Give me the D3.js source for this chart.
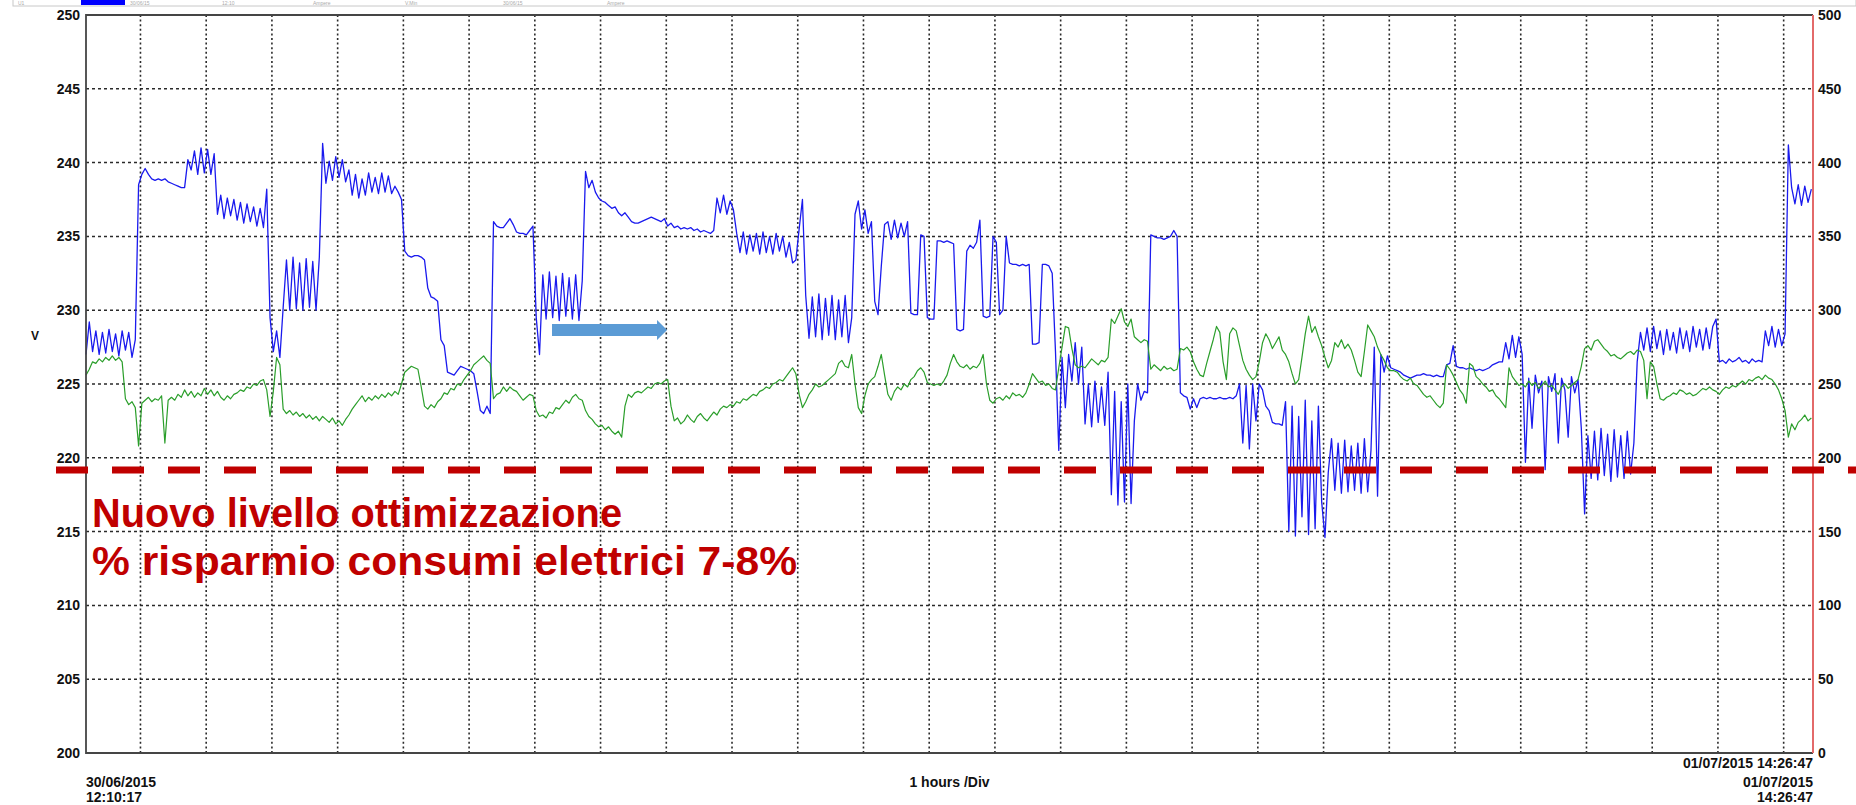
<!DOCTYPE html>
<html>
<head>
<meta charset="utf-8">
<script src="https://d3js.org/d3.v7.min.js"></script>
<style>
  body { margin: 0; background: #fff; }
  svg { display: block; font-family: "Liberation Sans", Arial, sans-serif; }
</style>
</head>
<body>
<div id="chart"></div>
<script>
// Recording window and sampling
const startTime = new Date(2015, 5, 30, 12, 10, 17);
const endTime = new Date(2015, 6, 1, 14, 26, 47);
const stepMinutes = 3;

// Blue trace (V), one value every 3 minutes from startTime
const blueValues = [
  227.0, 229.2, 227.2, 228.6, 227.0, 228.5, 227.1, 228.7, 227.2, 228.4, 226.9, 228.6, 227.3, 228.5, 226.8, 228.0,
  238.5, 239.2, 239.6, 239.2, 238.9, 238.8, 238.9, 238.8, 238.9, 238.7, 238.6, 238.5, 238.4, 238.3, 238.3,
  240.2, 239.5, 240.8, 239.2, 241.0, 239.3, 240.9, 239.2, 240.6,
  236.5, 237.8, 236.2, 237.6, 236.4, 237.5, 236.1, 237.3, 235.9, 237.2, 236.0, 237.0, 235.7, 236.9, 235.6, 238.2,
  229.5, 227.2, 228.6, 226.8,
  230.2, 233.4, 230.0, 233.6, 230.1, 233.2, 230.0, 233.5, 230.2, 233.3, 230.0, 233.6,
  241.3,
  238.6, 240.1, 238.8, 240.4, 239.0, 240.2, 238.7,
  239.5, 237.8, 239.2, 237.6, 238.9, 237.8, 239.3, 238.0, 239.0, 237.9, 239.3, 238.0, 239.1, 237.9, 238.4, 238.0,
  237.5, 234.0,
  233.7, 233.6, 233.7, 233.7, 233.6, 233.4,
  231.5, 230.9, 230.8, 230.6,
  228.0, 227.6,
  225.8, 225.7, 225.6, 225.9,
  226.2, 226.1, 226.0, 225.9, 225.7,
  224.5, 223.2, 223.0, 223.5, 223.0,
  236.0, 235.7, 235.6, 235.6, 235.9, 236.2, 235.8, 235.3, 235.2, 235.2, 235.1, 235.4, 235.7,
  229.5, 227.0,
  232.4, 229.4, 232.6, 229.5, 232.3, 229.3, 232.5, 229.6, 232.2, 229.4, 232.4, 229.3, 232.0,
  239.4, 238.3,
  238.8, 238.0, 237.6,
  237.4, 237.3, 237.1, 236.9, 237.0, 236.6, 236.4, 236.6, 236.3, 236.0, 235.9, 235.9, 236.0, 236.1, 236.2, 236.3, 236.2, 236.1, 236.0, 236.2,
  235.7, 235.9, 235.6, 235.7, 235.5, 235.6, 235.5, 235.6, 235.4, 235.5, 235.3, 235.4, 235.3, 235.2, 235.4,
  237.6, 236.6, 237.8, 236.5, 237.4, 236.8,
  235.2, 233.9, 235.3, 233.8, 235.1, 234.0, 235.2, 233.8, 235.3, 233.9, 235.0, 233.8, 235.2, 234.0, 235.0, 233.6, 234.6, 233.2, 233.4,
  235.5, 237.5,
  231.0, 228.1, 230.9, 228.2, 231.1, 228.0, 230.8, 228.3, 231.0, 228.0, 230.7, 228.2, 231.0, 227.8, 229.5,
  236.5, 237.4,
  235.5, 236.8, 235.2, 236.0,
  230.6, 229.7,
  233.0, 235.8,
  236.0, 234.8, 236.1, 234.9, 235.9, 235.0, 236.0,
  229.8, 229.7, 229.7,
  235.1, 235.0,
  229.5, 229.4, 229.4,
  234.7, 234.7, 234.6, 234.7, 234.6, 234.5,
  228.7, 228.6, 228.7,
  234.0, 234.4, 234.2, 234.6, 236.1,
  229.6, 229.5, 229.6,
  235.0, 234.6,
  229.7, 230.0,
  235.0, 233.2, 233.1, 233.1, 233.0, 233.1, 233.0, 233.1,
  227.7, 227.7, 227.8,
  233.1, 233.1, 233.0, 232.5,
  227.2, 220.5,
  226.8, 223.4, 227.0,
  225.2, 227.8, 225.0, 227.5,
  222.3, 225.0, 222.1, 225.2, 222.4, 224.8, 222.2,
  225.8, 217.5, 224.5, 216.8, 223.8, 217.0, 225.0, 216.9, 222.5,
  225.0, 223.9, 224.5, 224.4,
  235.1, 235.0, 234.9, 234.9, 234.8, 234.9, 235.0, 235.4, 235.0,
  224.4, 224.2, 224.1, 223.3, 224.0, 223.4, 224.0, 224.1, 224.0, 224.1, 224.0, 224.0, 224.1, 224.0, 224.0, 224.1, 224.0,
  224.2, 225.0, 221.0, 224.9, 220.6, 225.0, 222.5,
  225.0, 224.6, 223.5, 223.2, 222.4, 222.3, 222.3, 222.2,
  223.8, 215.0, 223.5, 214.7, 222.8, 216.0, 223.9, 214.8, 222.5, 215.2, 223.5, 217.0,
  214.6,
  219.0, 221.3, 217.8, 221.0, 217.6, 221.2, 217.7, 220.8, 217.8, 221.0, 217.6, 221.3, 217.7, 220.5,
  227.5, 217.4, 227.0,
  225.8, 226.9, 226.1,
  226.0, 225.9, 225.8, 225.6, 225.5, 225.4, 225.5, 225.6, 225.6, 225.7, 225.6, 225.6, 225.5, 225.6, 225.5, 225.5,
  226.3, 226.4, 227.6,
  226.2, 226.1, 226.1, 226.0, 226.1, 226.0, 225.9, 226.0, 225.9, 226.0,
  226.1, 226.3, 226.4, 226.5, 226.5,
  227.8, 226.7, 228.3, 226.8, 228.2, 227.0,
  219.7, 225.4, 222.0, 225.6, 224.4, 225.2, 219.2, 225.5, 224.5, 225.7, 221.0, 225.4, 224.6, 221.4, 225.5, 224.4, 225.3, 222.0,
  216.2,
  221.5, 218.6, 221.8, 218.5, 222.0, 218.8, 221.6, 218.4, 221.9, 218.7, 221.5, 218.6, 221.8, 218.9, 221.0,
  226.5,
  228.5, 227.3, 228.8, 227.2, 228.9, 227.4, 228.6, 227.0, 228.7, 227.3, 228.5, 227.1, 228.8, 227.4, 228.6, 227.2, 228.9, 227.5, 228.7, 227.3, 228.8, 227.4, 228.9, 229.4,
  226.5,
  226.6, 226.4, 226.7, 226.5, 226.6, 226.8, 226.5, 226.6, 226.4, 226.7, 226.5, 226.6, 226.5,
  228.6, 227.6, 228.9, 227.5, 228.7, 227.6, 228.4,
  241.2,
  238.3, 237.2, 238.5, 237.1, 238.4, 237.3, 238.2
];

// Green trace (V), same 3-minute steps
const greenValues = [
  225.6, 226.0, 226.5, 226.4, 226.7, 226.5, 226.8, 226.6, 226.9, 226.6, 226.8, 226.5,
  224.0, 223.6, 223.8, 223.4, 220.8, 223.7, 223.9, 224.1, 223.8, 224.0, 223.9, 224.2,
  221.0, 223.9, 224.1, 223.9, 224.3, 224.1, 224.6, 224.2, 224.5, 224.1, 224.4, 224.2,
  224.7, 224.3, 224.6, 224.2, 224.5, 224.1, 223.9, 224.2, 224.0, 224.3, 224.4, 224.6,
  224.5, 224.8, 224.7, 225.0, 224.9, 225.2, 225.3, 224.6, 222.8, 224.5, 226.8, 226.3,
  223.3, 223.0, 223.2, 222.9, 223.1, 222.8, 223.0, 222.7, 222.9, 222.6, 222.8, 222.5,
  222.8, 222.6, 222.4, 222.7, 222.3, 222.5, 222.2, 222.6, 222.9, 223.3, 223.6, 223.9,
  224.2, 223.8, 224.1, 223.9, 224.2, 224.0, 224.3, 224.1, 224.4, 224.2, 224.5, 224.3,
  225.0, 225.8, 226.0, 226.2, 226.1, 226.0, 224.8, 223.5, 223.3, 223.6, 223.4, 223.8,
  224.0, 224.4, 224.3, 224.7, 224.6, 225.0, 224.9, 225.3, 225.6, 225.9, 226.3, 226.5,
  226.7, 226.9, 226.6, 226.4, 224.0, 224.3, 224.4, 224.8, 224.5, 224.8, 224.6, 224.5,
  224.2, 223.9, 224.1, 224.3, 224.2, 223.2, 222.8, 222.9, 222.7, 223.1, 223.0, 223.4,
  223.3, 223.6, 223.9, 223.7, 224.1, 224.3, 224.0, 223.9, 223.2, 222.8, 222.6, 222.3,
  222.1, 222.2, 221.9, 222.1, 221.8, 221.6, 221.8, 221.4, 223.5, 224.3, 224.1, 224.4,
  224.5, 224.4, 224.6, 224.8, 224.7, 225.0, 225.1, 225.0, 225.2, 225.3, 223.5, 222.5,
  222.7, 222.3, 222.5, 222.9, 222.6, 222.4, 222.8, 223.0, 222.7, 222.5, 222.8, 223.1,
  222.9, 223.3, 223.5, 223.4, 223.6, 223.5, 223.8, 223.7, 224.0, 223.9, 224.1, 224.3,
  224.2, 224.5, 224.6, 224.8, 224.7, 225.0, 225.1, 225.3, 225.2, 225.5, 225.8, 226.1,
  225.7, 224.3, 223.4, 223.8, 224.3, 224.6, 225.0, 224.8, 224.9, 225.1, 225.3, 225.5,
  225.7, 226.4, 226.6, 226.2, 226.1, 227.0, 225.0, 223.4, 223.0, 224.2, 225.0, 225.3,
  225.5, 226.2, 227.0, 225.6, 224.3, 223.9, 224.5, 224.8, 224.6, 225.0, 224.8, 225.3,
  225.5, 225.9, 226.1, 225.8, 225.1, 225.0, 224.9, 225.0, 224.9, 225.2, 225.6, 226.4,
  227.0, 226.5, 226.2, 226.1, 226.3, 226.0, 226.2, 226.1, 226.4, 227.0, 225.0, 223.9,
  223.7, 224.0, 224.1, 223.9, 224.2, 224.0, 224.4, 224.2, 224.3, 224.1, 224.4, 225.0,
  225.7, 225.4, 225.1, 225.2, 224.9, 225.0, 224.7, 224.6, 226.1, 227.5, 228.9, 228.8,
  227.4, 226.3, 226.1, 226.2, 226.1, 226.4, 226.7, 226.5, 226.3, 226.6, 226.5, 226.8,
  229.4, 229.1, 229.6, 230.1, 229.2, 228.9, 229.4, 228.2, 228.0, 227.8, 228.0, 227.9,
  226.0, 226.3, 226.1, 225.9, 226.2, 226.0, 226.1, 225.9, 226.0, 227.4, 227.3, 227.5,
  227.2, 226.5, 226.0, 225.6, 225.5, 226.4, 227.2, 228.0, 228.9, 228.5, 226.5, 225.3,
  228.4, 228.8, 228.6, 227.6, 226.6, 226.0, 225.6, 225.3, 225.5, 226.5, 227.8, 228.4,
  228.0, 227.4, 227.8, 228.2, 227.3, 227.0, 226.5, 225.7, 225.0, 225.3, 226.8, 228.4,
  229.6, 228.5, 228.9, 228.2, 227.6, 226.8, 226.1, 226.6, 227.8, 227.5, 228.0, 227.4,
  227.7, 227.3, 226.6, 225.8, 225.5, 227.2, 229.0, 228.6, 228.2, 227.5, 227.0, 226.6,
  226.1, 225.9, 225.9, 225.8, 225.5, 225.3, 225.2, 225.4, 225.0, 224.9, 224.6, 224.3,
  224.1, 224.2, 223.9, 223.6, 223.4, 223.7, 226.3, 226.0, 225.6, 225.1, 224.6, 224.3,
  223.7, 226.4, 226.2, 225.5, 225.3, 225.0, 224.8, 224.5, 224.6, 224.2, 224.0, 223.7,
  223.4, 226.1, 225.5, 225.2, 224.9, 225.0, 224.8, 225.2, 224.9, 225.1, 224.7, 224.9,
  225.2, 224.8, 224.9, 224.6, 224.3, 224.8, 225.0, 224.7, 224.9, 225.1, 225.3, 226.2,
  227.4, 227.6, 227.3, 227.9, 228.0, 227.7, 227.4, 227.2, 226.9, 227.0, 226.8, 226.7,
  226.9, 227.1, 227.2, 227.0, 227.3, 227.2, 226.6, 224.0, 226.5, 226.2, 225.0, 224.0,
  223.9, 224.1, 224.2, 224.4, 224.3, 224.6, 224.5, 224.3, 224.4, 224.2, 224.3, 224.5,
  224.7, 224.6, 224.8, 224.6, 224.5, 224.3, 224.6, 224.8, 224.7, 224.9, 224.8, 225.0,
  225.2, 225.0, 225.3, 225.2, 225.4, 225.5, 225.3, 225.6, 225.4, 225.3, 225.0, 224.6,
  224.0, 223.2, 221.4, 222.3, 221.9, 222.4, 222.6, 222.9, 222.5, 222.7
];

// Axis ticks
const leftTicks = [200, 205, 210, 215, 220, 225, 230, 235, 240, 245, 250];
const rightTicks = [0, 50, 100, 150, 200, 250, 300, 350, 400, 450, 500];

// Legend strip labels (only a sliver of them shows at the top edge)
const legendLabels = ["U1", "30/06/15", "12:10", "Ampere", "V.Min", "30/06/15", "Ampere"];
const legendX = [18, 130, 222, 313, 405, 503, 607];

// Annotations (in data units)
const thresholdValue = 219.17;
const noteLines = ["Nuovo livello ottimizzazione", "% risparmio consumi elettrici 7-8%"];
const arrowHours = [7.09, 8.84];
const arrowValue = 228.66;

const width = 1856, height = 805;
const plot = { left: 86, right: 1813, top: 15, bottom: 753 };
const red = "#c00000";

const svg = d3.select("#chart").append("svg")
  .attr("width", width)
  .attr("height", height);

svg.append("rect").attr("width", width).attr("height", height).attr("fill", "#fff");

const x = d3.scaleTime().domain([startTime, endTime]).range([plot.left, plot.right]);
const y = d3.scaleLinear().domain([200, 250]).range([plot.bottom, plot.top]);
const yRight = d3.scaleLinear().domain([0, 500]).range([plot.bottom, plot.top]);

const timeAt = i => new Date(startTime.getTime() + i * stepMinutes * 60000);
const hoursAt = h => new Date(startTime.getTime() + h * 3600000);

// Top legend strip
svg.append("rect")
  .attr("x", 13).attr("y", -2).attr("width", width - 13).attr("height", 8)
  .attr("fill", "none").attr("stroke", "#c8c8c8").attr("stroke-width", 1);
svg.append("rect")
  .attr("x", 81).attr("y", 0).attr("width", 44).attr("height", 5)
  .attr("fill", "#0000ff");
legendLabels.forEach((label, i) => {
  svg.append("text").attr("x", legendX[i]).attr("y", 5)
    .attr("font-size", 5).attr("fill", "#aaa").text(label);
});

// Grid
const grid = svg.append("g");
grid.selectAll("line.h")
  .data(leftTicks.slice(1, -1))
  .enter().append("line")
  .attr("x1", plot.left).attr("x2", plot.right)
  .attr("y1", d => y(d)).attr("y2", d => y(d))
  .attr("stroke", "#2a2a2a").attr("stroke-width", 1.5)
  .attr("stroke-dasharray", "3,3");

grid.selectAll("line.v")
  .data(d3.timeHour.range(startTime, endTime))
  .enter().append("line")
  .attr("x1", d => x(d)).attr("x2", d => x(d))
  .attr("y1", plot.top).attr("y2", plot.bottom)
  .attr("stroke", "#2a2a2a").attr("stroke-width", 1.6)
  .attr("stroke-dasharray", "2,2.6");

// Series
const line = d3.line()
  .x((d, i) => x(timeAt(i)))
  .y(d => y(d));

svg.append("path")
  .datum(blueValues)
  .attr("fill", "none")
  .attr("stroke", "#1a1aee")
  .attr("stroke-width", 1.3)
  .attr("stroke-linejoin", "round")
  .attr("d", line);

svg.append("path")
  .datum(greenValues)
  .attr("fill", "none")
  .attr("stroke", "#2a9e2a")
  .attr("stroke-width", 1.2)
  .attr("stroke-linejoin", "round")
  .attr("d", line);

// Frame
svg.append("path")
  .attr("d", `M${plot.right},${plot.top}H${plot.left}V${plot.bottom}H${plot.right}`)
  .attr("fill", "none").attr("stroke", "#454545").attr("stroke-width", 1.8);
svg.append("line")
  .attr("x1", plot.right).attr("x2", plot.right)
  .attr("y1", plot.top).attr("y2", plot.bottom)
  .attr("stroke", "#e36a6a").attr("stroke-width", 2);

// Axes
const leftAxis = svg.append("g")
  .attr("transform", `translate(${plot.left},0)`)
  .call(d3.axisLeft(y).tickValues(leftTicks).tickSize(0).tickPadding(6));
const rightAxis = svg.append("g")
  .attr("transform", `translate(${plot.right},0)`)
  .call(d3.axisRight(yRight).tickValues(rightTicks).tickSize(0).tickPadding(5));

[leftAxis, rightAxis].forEach(g => {
  g.select(".domain").remove();
  g.selectAll("text")
    .attr("font-family", "'Liberation Sans', Arial, sans-serif")
    .attr("font-size", 14)
    .attr("font-weight", "bold")
    .attr("fill", "#111");
});

svg.append("text")
  .attr("x", 35).attr("y", 340)
  .attr("text-anchor", "middle")
  .attr("font-size", 12).attr("font-weight", "bold").attr("fill", "#111")
  .text("V");

// Bottom labels
const bottomText = (tx, ty, anchor, label) => svg.append("text")
  .attr("x", tx).attr("y", ty)
  .attr("text-anchor", anchor)
  .attr("font-size", 14).attr("font-weight", "bold").attr("fill", "#111")
  .text(label);

bottomText(plot.left, 787, "start", d3.timeFormat("%d/%m/%Y")(startTime));
bottomText(plot.left, 802, "start", d3.timeFormat("%H:%M:%S")(startTime));
bottomText((plot.left + plot.right) / 2, 787, "middle", "1 hours /Div");
bottomText(plot.right, 768, "end", d3.timeFormat("%d/%m/%Y %H:%M:%S")(endTime));
bottomText(plot.right, 787, "end", d3.timeFormat("%d/%m/%Y")(endTime));
bottomText(plot.right, 802, "end", d3.timeFormat("%H:%M:%S")(endTime));

// Arrow annotation
const ax0 = x(hoursAt(arrowHours[0])), ax1 = x(hoursAt(arrowHours[1])), ay = y(arrowValue);
svg.append("path")
  .attr("d", `M${ax0},${ay - 6}H${ax1 - 10}V${ay - 10}L${ax1},${ay}L${ax1 - 10},${ay + 10}V${ay + 6}H${ax0}Z`)
  .attr("fill", "#5b9bd5");

// Threshold line and note
svg.append("line")
  .attr("x1", 56).attr("x2", width)
  .attr("y1", y(thresholdValue)).attr("y2", y(thresholdValue))
  .attr("stroke", red).attr("stroke-width", 7)
  .attr("stroke-dasharray", "32,24");

const noteWidths = [530, 705];
noteLines.forEach((t, i) => {
  svg.append("text")
    .attr("x", 92).attr("y", 527 + i * 48)
    .attr("font-size", 41).attr("font-weight", "bold")
    .attr("fill", red)
    .attr("textLength", noteWidths[i])
    .attr("lengthAdjust", "spacingAndGlyphs")
    .text(t);
});
</script>
</body>
</html>
